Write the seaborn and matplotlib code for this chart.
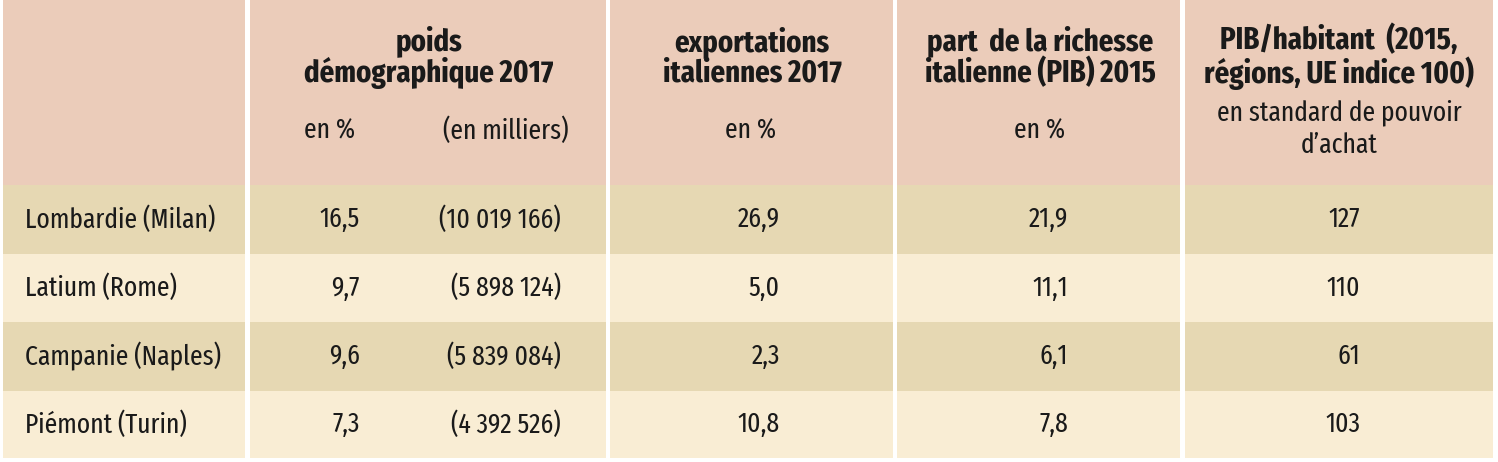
import matplotlib
matplotlib.use("Agg")
import matplotlib.pyplot as plt
import seaborn as sns
from matplotlib.patches import Rectangle

sns.set_theme(style="white")
plt.rcParams['font.family'] = ['Fira Sans Extra Condensed', 'DejaVu Sans']

# ---- data ----
regions = ["Lombardie (Milan)", "Latium (Rome)", "Campanie (Naples)", "Piémont (Turin)"]
pop_pct = ["16,5", "9,7", "9,6", "7,3"]
pop_thousands = ["(10 019 166)", "(5 898 124)", "(5 839 084)", "(4 392 526)"]
exports_pct = ["26,9", "5,0", "2,3", "10,8"]
gdp_share_pct = ["21,9", "11,1", "6,1", "7,8"]
gdp_per_capita = ["127", "110", "61", "103"]

headers = ["", "poids\ndémographique 2017", "exportations\nitaliennes 2017",
           "part  de la richesse\nitalienne (PIB) 2015", "PIB/habitant  (2015,\nrégions, UE indice 100)"]
subheaders = ["", "", "en %", "en %", "en standard de pouvoir\nd\u2019achat"]
pop_sub = ["en %", "(en milliers)"]

# ---- layout ----
col_edges = [(3, 245), (250, 606), (610, 893), (897, 1180), (1185, 1493)]
header_box = (0, 185)
row_edges = [(185, 254), (254, 322), (322, 391), (391, 458)]
c_header = "#EBCCBA"
c_dark = "#E6D8B3"
c_light = "#F9EDD4"

fig = plt.figure(figsize=(14.98, 4.62), dpi=100)
ax = fig.add_axes([0, 0, 1, 1])
ax.set_xlim(0, 1498)
ax.set_ylim(462, 0)
ax.axis("off")

for (x0, x1) in col_edges:
    ax.add_patch(Rectangle((x0, header_box[0]), x1 - x0, header_box[1] - header_box[0],
                           facecolor=c_header, edgecolor="none"))
    for i, (y0, y1) in enumerate(row_edges):
        ax.add_patch(Rectangle((x0, y0), x1 - x0, y1 - y0,
                               facecolor=c_dark if i % 2 == 0 else c_light, edgecolor="none"))

hfs = 22.5
bfs = 20
tc = "#1a1a1a"
# headers
header_cx = [0, 429, 752, 1040, 1339]
for j in range(1, 5):
    ax.text(header_cx[j], 57, headers[j], ha="center", va="center", fontsize=hfs,
            fontweight="bold", color=tc, linespacing=1.0)
# sub headers
ax.text(330, 131, pop_sub[0], ha="center", va="center", fontsize=bfs, color=tc)
ax.text(506, 131, pop_sub[1], ha="center", va="center", fontsize=bfs, color=tc)
ax.text(751, 131, subheaders[2], ha="center", va="center", fontsize=bfs, color=tc)
ax.text(1040, 131, subheaders[3], ha="center", va="center", fontsize=bfs, color=tc)
ax.text(1339, 129, subheaders[4], ha="center", va="center", fontsize=bfs, color=tc,
        linespacing=1.3)

for i, (y0, y1) in enumerate(row_edges):
    yc = (y0 + y1) / 2
    ax.text(25, yc, regions[i], ha="left", va="center", fontsize=bfs, color=tc)
    ax.text(360, yc, pop_pct[i], ha="right", va="center", fontsize=bfs, color=tc)
    ax.text(561, yc, pop_thousands[i], ha="right", va="center", fontsize=bfs, color=tc)
    ax.text(780, yc, exports_pct[i], ha="right", va="center", fontsize=bfs, color=tc)
    ax.text(1068, yc, gdp_share_pct[i], ha="right", va="center", fontsize=bfs, color=tc)
    ax.text(1360, yc, gdp_per_capita[i], ha="right", va="center", fontsize=bfs, color=tc)

fig.savefig("out.png", dpi=100, facecolor="white")
